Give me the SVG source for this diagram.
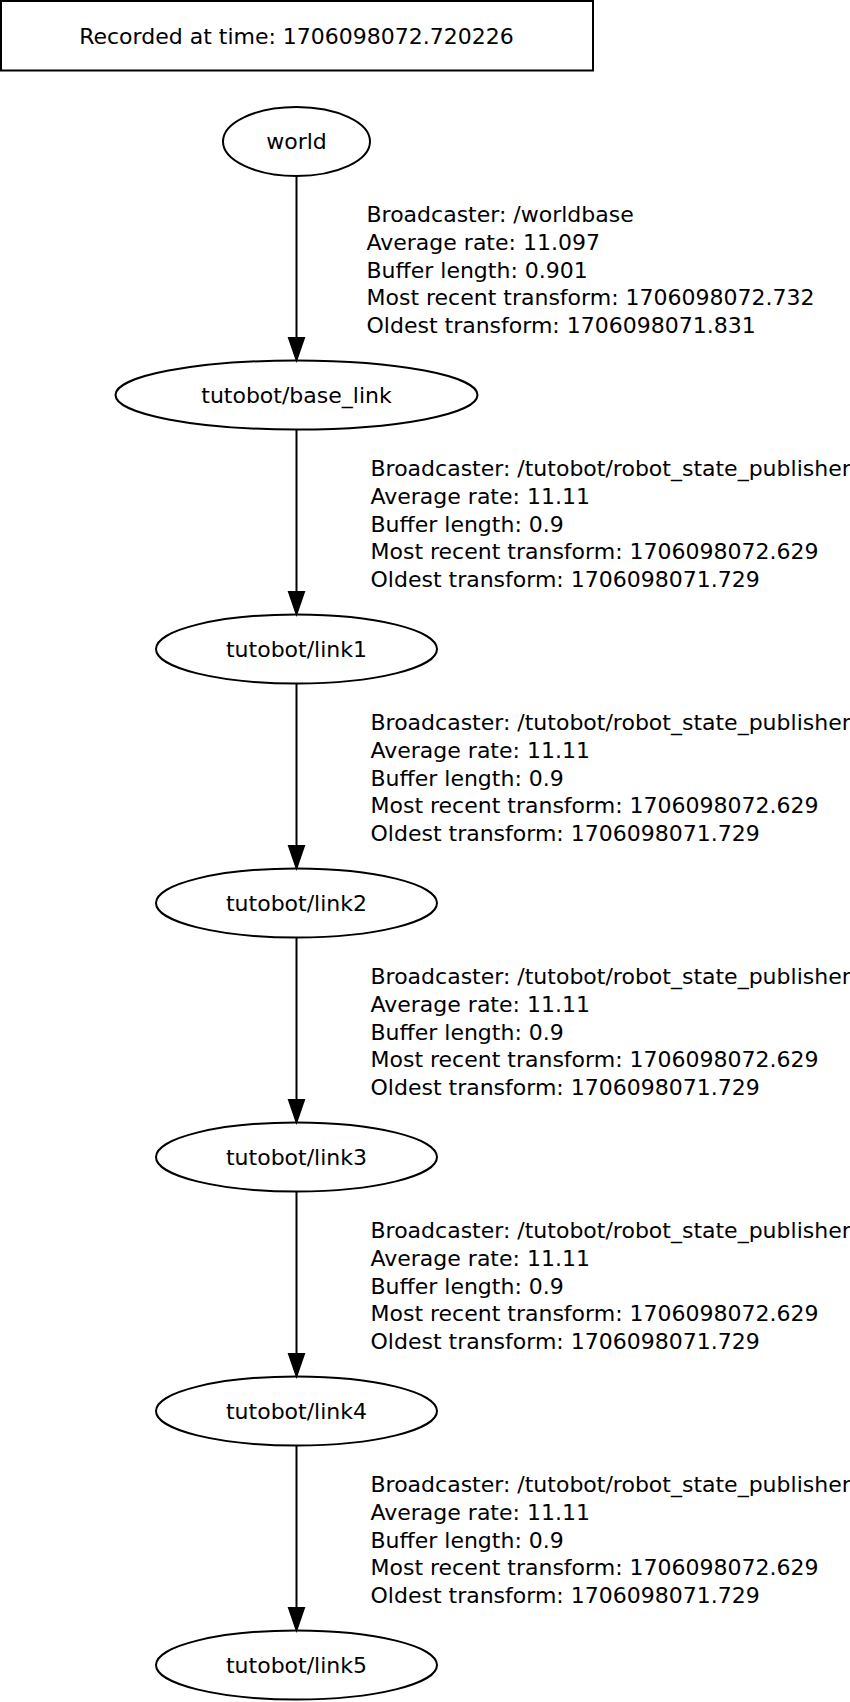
<svg xmlns="http://www.w3.org/2000/svg" width="850" height="1702" viewBox="0 0 850 1702">
<style>
text { font-family: "DejaVu Sans", sans-serif; font-size: 22px; fill: #000; }
.n { text-anchor: middle; }
.shape { fill: none; stroke: #000; stroke-width: 2; }
.edge { stroke: #000; stroke-width: 2; fill: none; }
.head { fill: #000; stroke: #000; stroke-width: 2; }
</style>
<rect width="850" height="1702" fill="#fff"/>
<g id="title">
<rect class="shape" x="1" y="1" width="592" height="69.5"/>
<text class="n" x="296.5" y="44">Recorded at time: 1706098072.720226</text>
</g>
<g id="world">
<ellipse class="shape" cx="296.5" cy="141.5" rx="73.5" ry="34.5"/>
<text class="n" x="296.5" y="149">world</text>
</g>
<g id="base_link">
<ellipse class="shape" cx="296.5" cy="395" rx="181" ry="34.5"/>
<text class="n" x="296.5" y="403">tutobot/base_link</text>
</g>
<g id="link1">
<ellipse class="shape" cx="296.5" cy="649" rx="140.5" ry="34.5"/>
<text class="n" x="296.5" y="657">tutobot/link1</text>
</g>
<g id="link2">
<ellipse class="shape" cx="296.5" cy="903" rx="140.5" ry="34.5"/>
<text class="n" x="296.5" y="911">tutobot/link2</text>
</g>
<g id="link3">
<ellipse class="shape" cx="296.5" cy="1157" rx="140.5" ry="34.5"/>
<text class="n" x="296.5" y="1165">tutobot/link3</text>
</g>
<g id="link4">
<ellipse class="shape" cx="296.5" cy="1411" rx="140.5" ry="34.5"/>
<text class="n" x="296.5" y="1419">tutobot/link4</text>
</g>
<g id="link5">
<ellipse class="shape" cx="296.5" cy="1665" rx="140.5" ry="34.5"/>
<text class="n" x="296.5" y="1673">tutobot/link5</text>
</g>
<g id="connectors">
<g id="e_world_base">
<line class="edge" x1="296.5" y1="176" x2="296.5" y2="338"/>
<polygon class="head" points="289,338 304,338 296.5,360"/>
<text x="366.5" y="221.7">Broadcaster: /worldbase</text>
<text x="366.5" y="249.6">Average rate: 11.097</text>
<text x="366.5" y="277.5">Buffer length: 0.901</text>
<text x="366.5" y="305.4">Most recent transform: 1706098072.732</text>
<text x="366.5" y="333.3">Oldest transform: 1706098071.831</text>
</g>
<g id="e_base_link1">
<line class="edge" x1="296.5" y1="430" x2="296.5" y2="592"/>
<polygon class="head" points="289,592 304,592 296.5,614"/>
<text x="370.5" y="475.7">Broadcaster: /tutobot/robot_state_publisher</text>
<text x="370.5" y="503.6">Average rate: 11.11</text>
<text x="370.5" y="531.5">Buffer length: 0.9</text>
<text x="370.5" y="559.4">Most recent transform: 1706098072.629</text>
<text x="370.5" y="587.3">Oldest transform: 1706098071.729</text>
</g>
<g id="e_link1_link2">
<line class="edge" x1="296.5" y1="684" x2="296.5" y2="846"/>
<polygon class="head" points="289,846 304,846 296.5,868"/>
<text x="370.5" y="729.7">Broadcaster: /tutobot/robot_state_publisher</text>
<text x="370.5" y="757.6">Average rate: 11.11</text>
<text x="370.5" y="785.5">Buffer length: 0.9</text>
<text x="370.5" y="813.4">Most recent transform: 1706098072.629</text>
<text x="370.5" y="841.3">Oldest transform: 1706098071.729</text>
</g>
<g id="e_link2_link3">
<line class="edge" x1="296.5" y1="938" x2="296.5" y2="1100"/>
<polygon class="head" points="289,1100 304,1100 296.5,1122"/>
<text x="370.5" y="983.7">Broadcaster: /tutobot/robot_state_publisher</text>
<text x="370.5" y="1011.6">Average rate: 11.11</text>
<text x="370.5" y="1039.5">Buffer length: 0.9</text>
<text x="370.5" y="1067.4">Most recent transform: 1706098072.629</text>
<text x="370.5" y="1095.3">Oldest transform: 1706098071.729</text>
</g>
<g id="e_link3_link4">
<line class="edge" x1="296.5" y1="1192" x2="296.5" y2="1354"/>
<polygon class="head" points="289,1354 304,1354 296.5,1376"/>
<text x="370.5" y="1237.7">Broadcaster: /tutobot/robot_state_publisher</text>
<text x="370.5" y="1265.6">Average rate: 11.11</text>
<text x="370.5" y="1293.5">Buffer length: 0.9</text>
<text x="370.5" y="1321.4">Most recent transform: 1706098072.629</text>
<text x="370.5" y="1349.3">Oldest transform: 1706098071.729</text>
</g>
<g id="e_link4_link5">
<line class="edge" x1="296.5" y1="1446" x2="296.5" y2="1608"/>
<polygon class="head" points="289,1608 304,1608 296.5,1630"/>
<text x="370.5" y="1491.7">Broadcaster: /tutobot/robot_state_publisher</text>
<text x="370.5" y="1519.6">Average rate: 11.11</text>
<text x="370.5" y="1547.5">Buffer length: 0.9</text>
<text x="370.5" y="1575.4">Most recent transform: 1706098072.629</text>
<text x="370.5" y="1603.3">Oldest transform: 1706098071.729</text>
</g>
</g>
</svg>
